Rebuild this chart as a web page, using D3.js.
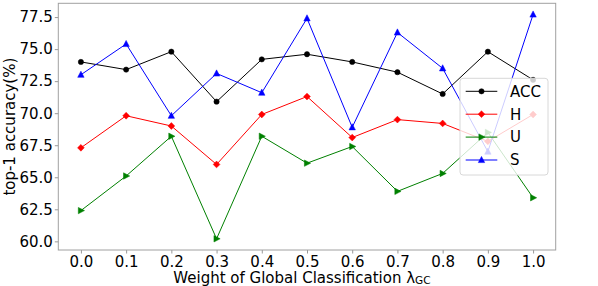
<!DOCTYPE html>
<html><head><meta charset="utf-8">
<script src="https://cdn.jsdelivr.net/npm/d3@7"></script>
<style>body{margin:0;background:#fff}svg text{font-family:"DejaVu Sans",sans-serif}</style>
</head><body><svg id="c" width="598" height="286"></svg>
<script>
const weights = [0.0,0.1,0.2,0.3,0.4,0.5,0.6,0.7,0.8,0.9,1.0];
const accValues = [74.0,73.4,74.8,70.9,74.2,74.6,74.0,73.2,71.5,74.8,72.6];
const hValues   = [67.3,69.8,69.0,66.0,69.9,71.3,68.1,69.5,69.2,67.8,69.9];
const uValues   = [62.4,65.1,68.2,60.2,68.2,66.1,67.4,63.9,65.3,68.5,63.4];
const sValues   = [73.0,75.4,69.8,73.1,71.6,77.4,68.9,76.3,73.5,67.0,77.7];
const seriesNames = ["ACC","H","U","S"];
const seriesColors = ["#000000","#ff0000","#008000","#0000ff"];
const seriesMarkers = ["circle","diamond","triright","triup"];
const yTicks = [60.0,62.5,65.0,67.5,70.0,72.5,75.0,77.5];
const xTicks = weights;

const series = [accValues,hValues,uValues,sValues].map((v,i)=>({name:seriesNames[i],color:seriesColors[i],marker:seriesMarkers[i],values:v}));

const svg = d3.select("#c");
const L=58.3, R=555.7, T=3.3, B=250;
const allV = series.flatMap(s=>s.values);
const vmin=d3.min(allV), vmax=d3.max(allV), pad=(vmax-vmin)*0.05;
const x = d3.scaleLinear().domain([-0.05,1.05]).range([L,R]);
const y = d3.scaleLinear().domain([vmin-pad,vmax+pad]).range([B,T]);

function markerPath(type){
  if(type==="circle") return d3.symbol(d3.symbolCircle, 22)();
  if(type==="diamond") return "M0,-3.4L3.4,0L0,3.4L-3.4,0Z";
  if(type==="triright") return "M3.6,0L-2.6,-3.2L-2.6,3.2Z";
  if(type==="triup") return "M0,-3.6L3.2,2.6L-3.2,2.6Z";
}

const g = svg.append("g");
const line = d3.line().x((d,i)=>x(weights[i])).y(d=>y(d));
series.forEach(s=>{
  g.append("path").attr("d",line(s.values)).attr("fill","none").attr("stroke",s.color).attr("stroke-width",1);
  g.selectAll(null).data(s.values).enter().append("path")
    .attr("d",markerPath(s.marker))
    .attr("transform",(d,i)=>`translate(${x(weights[i])},${y(d)})`)
    .attr("fill",s.color).attr("stroke",s.color).attr("stroke-width",0.5);
});

// axes
const xAxis = d3.axisBottom(x).tickValues(xTicks).tickFormat(d3.format(".1f")).tickSize(3.5).tickPadding(2.5);
const yAxis = d3.axisLeft(y).tickValues(yTicks).tickFormat(d3.format(".1f")).tickSize(3.5).tickPadding(2);
const gx = svg.append("g").attr("transform",`translate(0,${B})`).call(xAxis);
const gy = svg.append("g").attr("transform",`translate(${L},0)`).call(yAxis);
[gx,gy].forEach(a=>{
  a.select(".domain").remove();
  a.selectAll(".tick line").attr("stroke","#999");
  a.selectAll("text").attr("font-size",15).attr("fill","#000").attr("font-family","DejaVu Sans");
});
// frame
svg.append("rect").attr("x",L).attr("y",T).attr("width",R-L).attr("height",B-T)
  .attr("fill","none").attr("stroke","#a0a0a0").attr("stroke-width",1);

// labels
const xl = svg.append("text").attr("x",173.3).attr("y",282.5).attr("text-anchor","start").attr("font-size",15);
xl.append("tspan").text("Weight of Global Classification λ");
xl.append("tspan").text("GC").attr("font-size",10.5).attr("dy",1.8);
svg.append("text").attr("transform",`translate(14.5,${(T+B)/2}) rotate(-90)`).attr("text-anchor","middle")
  .attr("font-size",15).text("top-1 accuracy(%)");

// legend
const lg = svg.append("g");
lg.append("rect").attr("x",460).attr("y",78.3).attr("width",88).attr("height",96.7).attr("rx",3)
  .attr("fill","white").attr("fill-opacity",0.8).attr("stroke","#d8d8d8").attr("stroke-width",1);
series.forEach((s,i)=>{
  const yy = 91.3 + i*22.9;
  lg.append("line").attr("x1",465.7).attr("x2",497.3).attr("y1",yy).attr("y2",yy).attr("stroke",s.color).attr("stroke-width",1);
  lg.append("path").attr("d",markerPath(s.marker)).attr("transform",`translate(481.5,${yy})`).attr("fill",s.color).attr("stroke",s.color).attr("stroke-width",0.5);
  lg.append("text").attr("x",510).attr("y",yy+5.3).attr("font-size",15).text(s.name);
});
</script></body></html>
